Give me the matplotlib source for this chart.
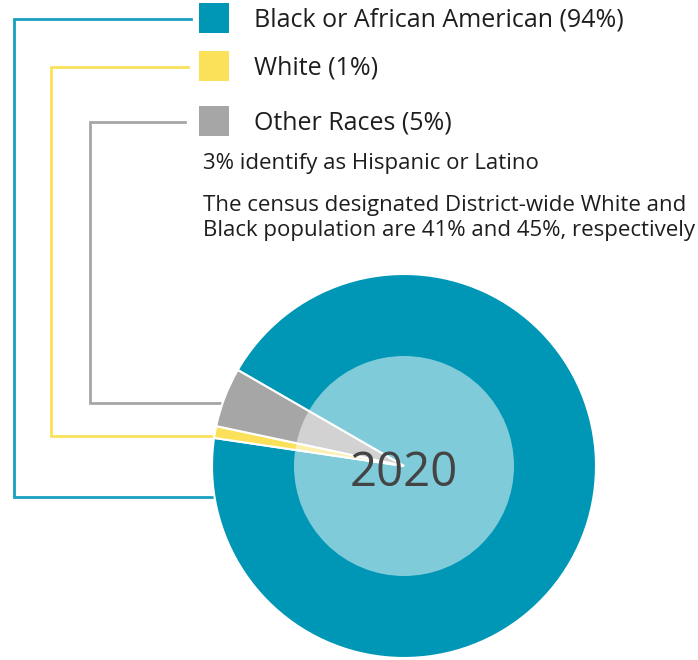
import matplotlib.pyplot as plt
from matplotlib.patches import Circle, Rectangle

# 2020 racial makeup
labels = ['Black or African American', 'White', 'Other Races']
shares = [94, 1, 5]
colors = ['#0097b6', '#fbe15a', '#a6a6a6']
line_colors = ['#1a9fbd', '#fbe15a', '#a6a6a6']
year = '2020'
notes = ['3% identify as Hispanic or Latino',
         'The census designated District-wide White and\nBlack population are 41% and 45%, respectively']

W, H = 698, 660
fig = plt.figure(figsize=(W / 100, H / 100), dpi=100)
ax = fig.add_axes([0, 0, 1, 1])
plt.rcParams['font.family'] = ['Open Sans', 'DejaVu Sans']

cx, cy, r = 404, H - 466, 192
wedges, _ = ax.pie(shares, colors=colors, startangle=150, counterclock=False,
                   center=(cx, cy), radius=r,
                   wedgeprops=dict(edgecolor='white', linewidth=1.5))
for w in wedges:
    w.set_zorder(3)
# lighter inner disc
ax.add_patch(Circle((cx, cy), 110, facecolor='white', alpha=0.5, edgecolor='none', zorder=4))
ax.text(cx, cy - 7, year, ha='center', va='center', fontsize=34, color='#444444', zorder=5)

# legend boxes + connector lines down to the pie
box_y = [18, 66, 121]
line_x = [14, 51, 90]
line_y = [497, 436, 403]
for i, lab in enumerate(labels):
    y = H - box_y[i]
    ax.add_patch(Rectangle((199, y - 15), 30, 30, facecolor=colors[i], edgecolor='none'))
    ax.text(254, y - 2, f'{lab} ({shares[i]}%)', ha='left', va='center',
            fontsize=18, color='#1e1e1e')
    ly = H - line_y[i]
    ex = cx - (r ** 2 - (ly - cy) ** 2) ** 0.5
    ax.plot([191 - 3 * i, line_x[i], line_x[i], ex + 1], [y - 1, y - 1, ly, ly],
            color=line_colors[i], lw=2, solid_joinstyle='miter', zorder=2)

ax.text(203, H - 164, notes[0], ha='left', va='center', fontsize=16, color='#1e1e1e')
ax.text(203, H - 218, notes[1], ha='left', va='center', fontsize=16, color='#1e1e1e',
        linespacing=1.25)

ax.set_xlim(0, W)
ax.set_ylim(0, H)
ax.set_aspect('auto')
ax.axis('off')
fig.savefig('out.png', dpi=100)
